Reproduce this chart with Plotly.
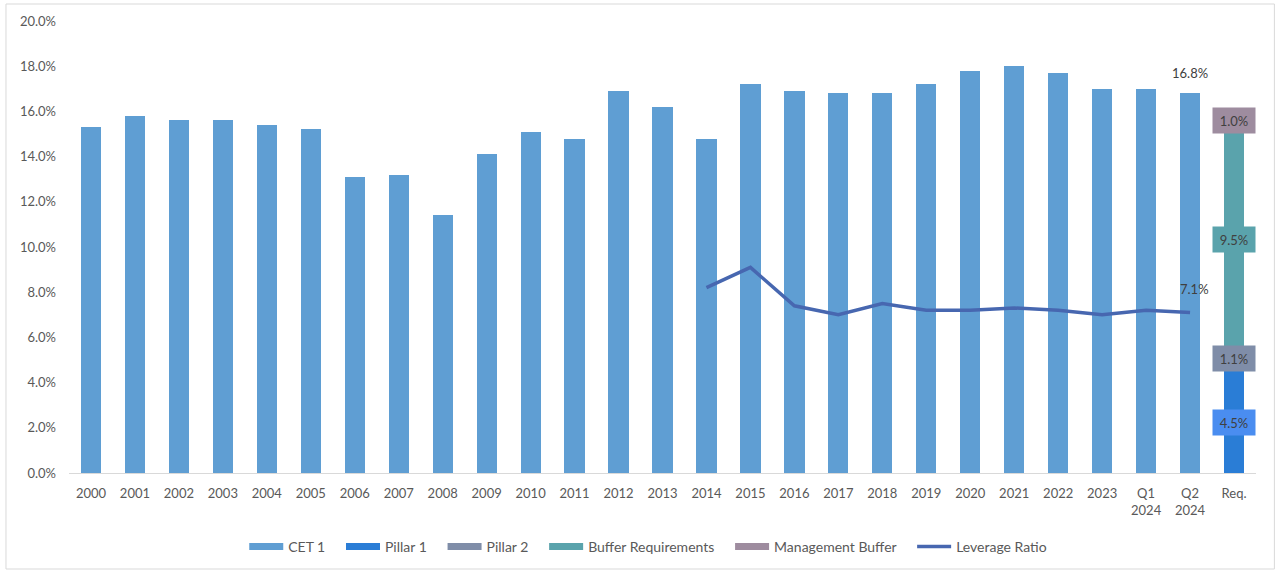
import plotly.graph_objects as go

categories = ["2000", "2001", "2002", "2003", "2004", "2005", "2006", "2007", "2008", "2009",
              "2010", "2011", "2012", "2013", "2014", "2015", "2016", "2017", "2018", "2019",
              "2020", "2021", "2022", "2023", "Q1<br>2024", "Q2<br>2024"]
req_category = "Req."
cet1 = [15.3, 15.8, 15.6, 15.6, 15.4, 15.2, 13.1, 13.2, 11.4, 14.1,
        15.1, 14.8, 16.9, 16.2, 14.8, 17.2, 16.9, 16.8, 16.8, 17.2,
        17.8, 18.0, 17.7, 17.0, 17.0, 16.8]
leverage_categories = ["2014", "2015", "2016", "2017", "2018", "2019", "2020", "2021",
                       "2022", "2023", "Q1<br>2024", "Q2<br>2024"]
leverage = [8.2, 9.1, 7.4, 7.0, 7.5, 7.2, 7.2, 7.3, 7.2, 7.0, 7.2, 7.1]
req_names = ["Pillar 1", "Pillar 2", "Buffer Requirements", "Management Buffer"]
req_values = [4.5, 1.1, 9.5, 1.0]
y_ticks = [0, 2, 4, 6, 8, 10, 12, 14, 16, 18, 20]
y_tick_text = [f"{v:.1f}%" for v in y_ticks]

cet1_color = "#5F9ED3"
req_colors = ["#2A7DD6", "#7F8DA8", "#5AA3AC", "#9E8C9F"]
req_label_bg = ["#4A8DF0", "#7F8DA8", "#5AA3AC", "#9E8C9F"]
lev_color = "#4767B0"
text_color = "#595959"
label_color = "#404040"
font_family = "Lato, Carlito, Open Sans, sans-serif"
pad = "\u00a0" * 3

all_cats = categories + [req_category]

fig = go.Figure()
fig.add_trace(go.Bar(x=categories, y=cet1, name="CET 1", marker_color=cet1_color,
                     marker_line_width=0, showlegend=False))
for name, val, col in zip(req_names, req_values, req_colors):
    fig.add_trace(go.Bar(x=[req_category], y=[val], name=name, marker_color=col,
                         marker_line_width=0, showlegend=False))
fig.add_trace(go.Scatter(x=leverage_categories, y=leverage, name="Leverage Ratio",
                         mode="lines", line=dict(color=lev_color, width=3.5),
                         showlegend=False))

# legend entries (wide rectangular swatches like the reference)
for name, col in zip(["CET 1"] + req_names, [cet1_color] + req_colors):
    fig.add_trace(go.Scatter(x=[None], y=[None], mode="lines", name=name + pad,
                             line=dict(color=col, width=7)))
fig.add_trace(go.Scatter(x=[None], y=[None], mode="lines", name="Leverage Ratio",
                         line=dict(color=lev_color, width=3.5)))

# labels on the requirement stack
base = 0
for val, bg in zip(req_values, req_label_bg):
    fig.add_annotation(x=req_category, y=base + val / 2, text=f"{val:.1f}%",
                       showarrow=False, bgcolor=bg, width=40, height=23,
                       font=dict(size=13, color=label_color, family=font_family))
    base += val

# last-point labels
fig.add_annotation(x=categories[-1], y=cet1[-1], text=f"{cet1[-1]:.1f}%", showarrow=False,
                   yshift=20, font=dict(size=13, color=label_color, family=font_family))
fig.add_annotation(x=leverage_categories[-1], y=leverage[-1], text=f"{leverage[-1]:.1f}%",
                   showarrow=False, yshift=24, xshift=4,
                   font=dict(size=13, color=label_color, family=font_family))

# outer frame
fig.add_shape(type="rect", xref="paper", yref="paper", x0=-0.0531, x1=1.0155,
              y0=-0.2124, y1=1.0376, line=dict(color="#D9D9D9", width=1),
              fillcolor="rgba(0,0,0,0)", layer="below")

fig.update_layout(
    width=1279, height=570,
    margin=dict(l=69, r=23, t=21, b=97, autoexpand=False),
    barmode="stack", bargap=0.54,
    plot_bgcolor="white", paper_bgcolor="white",
    font=dict(family=font_family, size=13, color=text_color),
    showlegend=True,
    legend=dict(orientation="h", x=0.488, xanchor="center", xref="paper",
                y=0.0404, yanchor="middle", yref="container",
                font=dict(size=14, color=text_color), itemwidth=34, traceorder="normal"),
    xaxis=dict(categoryorder="array", categoryarray=all_cats, showline=True,
               linecolor="#D9D9D9", linewidth=1, ticks="", showgrid=False,
               ticklabelstandoff=8, automargin=False,
               tickfont=dict(size=13, color=text_color), range=[-0.5, len(all_cats) - 0.5]),
    yaxis=dict(range=[0, 20], tickvals=y_ticks, ticktext=y_tick_text, automargin=False,
               showgrid=False, zeroline=False, showline=False, ticklabelstandoff=12,
               tickfont=dict(size=13, color=text_color)),
)

fig.write_html("out.html", config={"displayModeBar": False},
               post_script="document.body.style.margin='0px';")
